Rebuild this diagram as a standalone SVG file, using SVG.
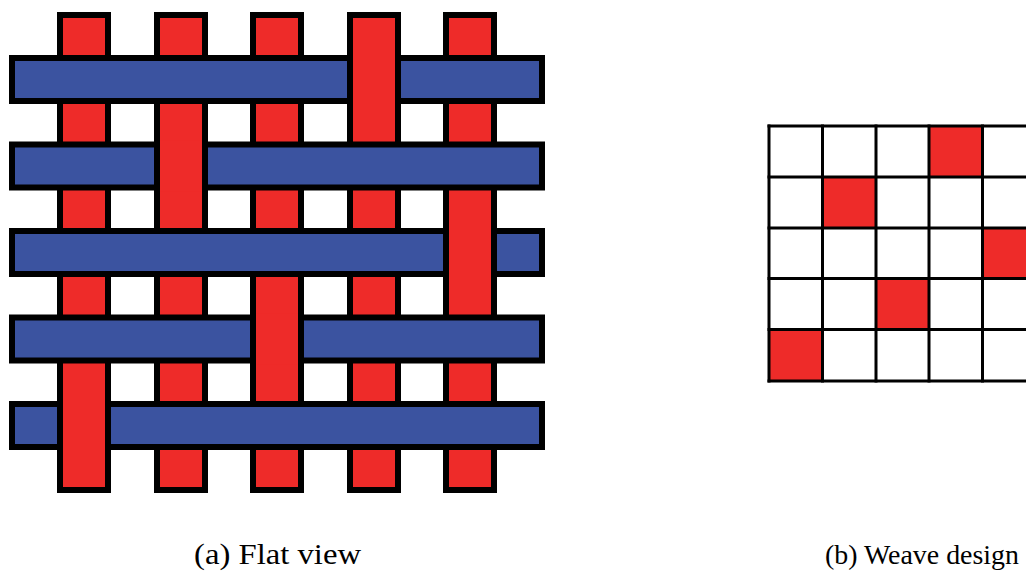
<svg xmlns="http://www.w3.org/2000/svg" width="1026" height="573" viewBox="0 0 1026 573">
<style>
.warp{fill:#EE2B29;stroke:#000;stroke-width:6}
.weft{fill:#3B53A0;stroke:#000;stroke-width:6}
.over{fill:#EE2B29}
.edge{fill:#000}
.cell{fill:#EE2B29}
.gl{stroke:#000;stroke-width:3;fill:none}
.lbl{font-family:"Liberation Serif","Times New Roman",serif;fill:#000}
</style>
<rect width="1026" height="573" fill="#fff"/>
<g id="flat-view">
<g id="warp-threads">
<rect class="warp" x="60" y="15" width="48" height="475"/>
<rect class="warp" x="157" y="15" width="48" height="475"/>
<rect class="warp" x="253" y="15" width="48" height="475"/>
<rect class="warp" x="350" y="15" width="48" height="475"/>
<rect class="warp" x="446" y="15" width="48" height="475"/>
</g>
<g id="weft-threads">
<rect class="weft" x="12" y="58" width="530" height="43"/>
<rect class="weft" x="12" y="144.5" width="530" height="43"/>
<rect class="weft" x="12" y="231" width="530" height="43"/>
<rect class="weft" x="12" y="317.5" width="530" height="43"/>
<rect class="weft" x="12" y="404" width="530" height="43"/>
</g>
<g id="warp-over">
<rect class="over" x="353" y="54" width="42" height="51"/>
<rect class="edge" x="347" y="54" width="6" height="51"/>
<rect class="edge" x="395" y="54" width="6" height="51"/>
<rect class="over" x="160" y="140.5" width="42" height="51"/>
<rect class="edge" x="154" y="140.5" width="6" height="51"/>
<rect class="edge" x="202" y="140.5" width="6" height="51"/>
<rect class="over" x="449" y="227" width="42" height="51"/>
<rect class="edge" x="443" y="227" width="6" height="51"/>
<rect class="edge" x="491" y="227" width="6" height="51"/>
<rect class="over" x="256" y="313.5" width="42" height="51"/>
<rect class="edge" x="250" y="313.5" width="6" height="51"/>
<rect class="edge" x="298" y="313.5" width="6" height="51"/>
<rect class="over" x="63" y="400" width="42" height="51"/>
<rect class="edge" x="57" y="400" width="6" height="51"/>
<rect class="edge" x="105" y="400" width="6" height="51"/>
</g>
</g>
<g id="weave-design">
<rect class="cell" x="929" y="126" width="53.5" height="51"/>
<rect class="cell" x="822.5" y="177" width="53.5" height="51"/>
<rect class="cell" x="982.5" y="228" width="44" height="50.5"/>
<rect class="cell" x="876" y="278.5" width="53" height="51"/>
<rect class="cell" x="769" y="329.5" width="53.5" height="51.5"/>
<g id="grid-lines">
<path class="gl" d="M767.5 126H1026M767.5 177H1026M767.5 228H1026M767.5 278.5H1026M767.5 329.5H1026M767.5 381H1026"/>
<path class="gl" d="M769 124.5V382.5M822.5 124.5V382.5M876 124.5V382.5M929 124.5V382.5M982.5 124.5V382.5"/>
</g>
</g>
<g id="labels">
<text class="lbl" x="194" y="564" font-size="30" textLength="167" lengthAdjust="spacingAndGlyphs">(a) Flat view</text>
<text class="lbl" x="825" y="564" font-size="28" textLength="194" lengthAdjust="spacingAndGlyphs">(b) Weave design</text>
</g>
</svg>
